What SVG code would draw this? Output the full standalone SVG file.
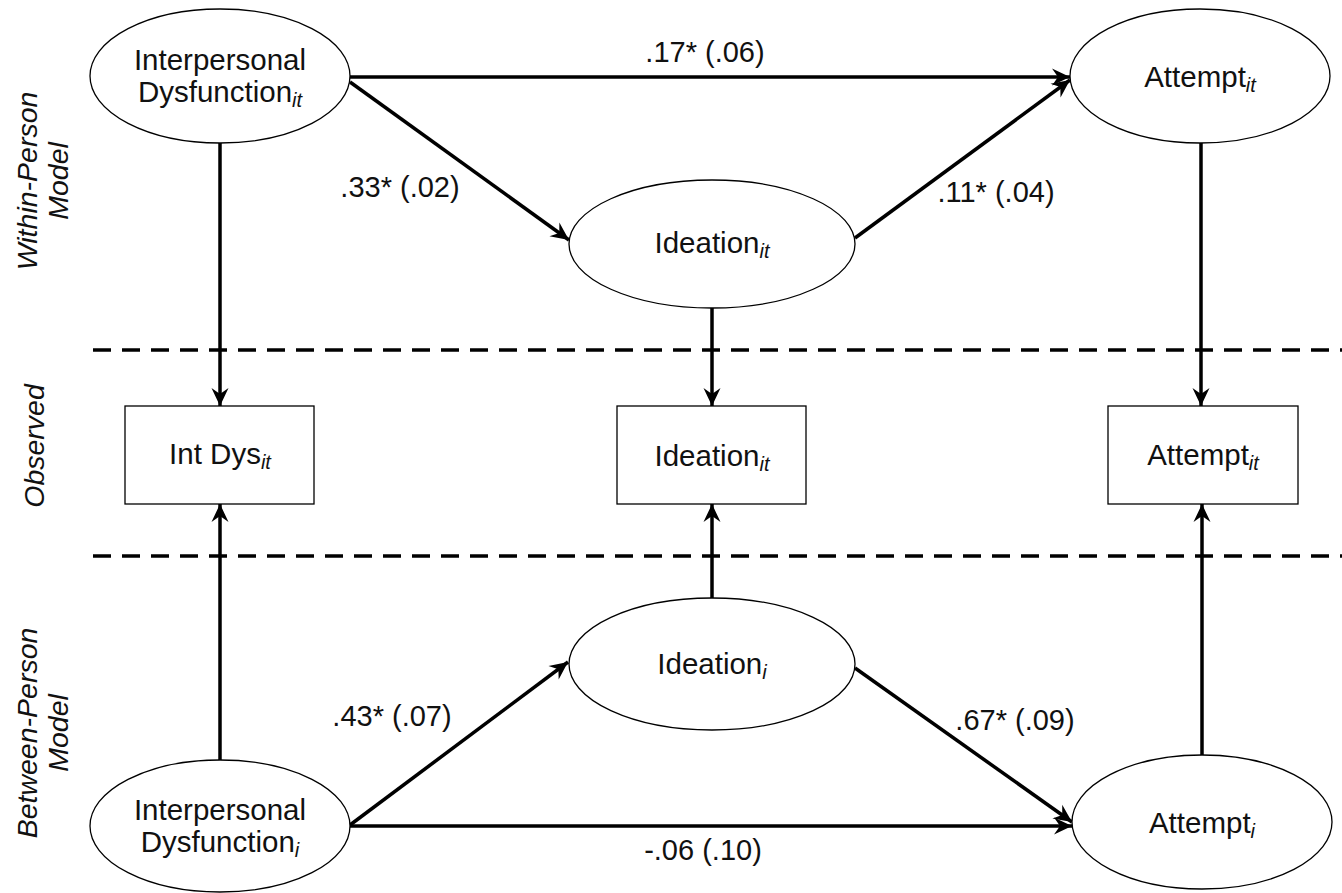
<svg xmlns="http://www.w3.org/2000/svg" width="1342" height="893" viewBox="0 0 1342 893">
<defs>
<style>
.node{fill:#fff;stroke:#000;stroke-width:1.3}
.t{font-family:"Liberation Sans",Arial,sans-serif;font-size:29.5px;fill:#111}
.sub{font-style:italic;font-size:20px}
.lab{font-family:"Liberation Sans",Arial,sans-serif;font-size:29px;fill:#111;text-anchor:middle}
.side{font-family:"Liberation Sans",Arial,sans-serif;font-size:28.5px;font-style:italic;fill:#111;text-anchor:middle}
.c{fill:none;stroke:#000;stroke-width:3.5;marker-end:url(#ah)}
.dash{fill:none;stroke:#000;stroke-width:3.5;stroke-dasharray:18 11}
</style>
<marker id="ah" markerUnits="userSpaceOnUse" markerWidth="22" markerHeight="20" viewBox="-20 -10 22 20" refX="0" refY="0" orient="auto">
<path d="M0,0 L-18,-8.5 L-12,0 L-18,8.5 Z" fill="#000"/>
</marker>
</defs>
<rect width="1342" height="893" fill="#fff"/>

<g id="dividers">
<line class="dash" x1="93" y1="350" x2="1342" y2="350"/>
<line class="dash" x1="93" y1="556" x2="1342" y2="556"/>
</g>

<g id="side-labels">
<text class="side" transform="translate(37,181) rotate(-90)">Within-Person</text>
<text class="side" transform="translate(68,181) rotate(-90)">Model</text>
<text class="side" transform="translate(44,446) rotate(-90)">Observed</text>
<text class="side" transform="translate(37,733) rotate(-90)">Between-Person</text>
<text class="side" transform="translate(68,733) rotate(-90)">Model</text>
</g>

<g id="connectors">
<path class="c" d="M350,77 L1070,77"/>
<path class="c" d="M350,82 L569,240"/>
<path class="c" d="M855,238 L1070,80"/>
<path class="c" d="M220,143 L220,406"/>
<path class="c" d="M712,308 L712,406"/>
<path class="c" d="M1201,143 L1201,406"/>
<path class="c" d="M220,760 L220,504"/>
<path class="c" d="M712,598 L712,504"/>
<path class="c" d="M1202,755 L1202,504"/>
<path class="c" d="M350,825 L568,662"/>
<path class="c" d="M855,668 L1072,822"/>
<path class="c" d="M350,826 L1072,826"/>
</g>

<g id="edge-labels">
<text class="lab" x="705" y="62">.17* (.06)</text>
<text class="lab" x="400" y="197">.33* (.02)</text>
<text class="lab" x="996" y="202">.11* (.04)</text>
<text class="lab" x="392" y="726">.43* (.07)</text>
<text class="lab" x="1015" y="730">.67* (.09)</text>
<text class="lab" x="703" y="860">-.06 (.10)</text>
</g>

<g id="intdys-it">
<ellipse class="node" cx="220" cy="76" rx="130" ry="67"/>
<text class="t" x="220" y="70" text-anchor="middle">Interpersonal</text>
<text class="t" x="220" y="102" text-anchor="middle">Dysfunction<tspan class="sub" dy="5">it</tspan></text>
</g>

<g id="ideation-it">
<ellipse class="node" cx="712" cy="244" rx="143" ry="64"/>
<text class="t" x="712" y="253" text-anchor="middle">Ideation<tspan class="sub" dy="5">it</tspan></text>
</g>

<g id="attempt-it">
<ellipse class="node" cx="1200" cy="76" rx="130" ry="67"/>
<text class="t" x="1200" y="87" text-anchor="middle">Attempt<tspan class="sub" dy="5">it</tspan></text>
</g>

<g id="intdys-obs">
<rect class="node" x="125" y="406" width="189" height="98"/>
<text class="t" x="220" y="464" text-anchor="middle">Int Dys<tspan class="sub" dy="5">it</tspan></text>
</g>

<g id="ideation-obs">
<rect class="node" x="617" y="406" width="189" height="98"/>
<text class="t" x="712" y="466" text-anchor="middle">Ideation<tspan class="sub" dy="5">it</tspan></text>
</g>

<g id="attempt-obs">
<rect class="node" x="1108" y="406" width="190" height="98"/>
<text class="t" x="1203" y="465" text-anchor="middle">Attempt<tspan class="sub" dy="5">it</tspan></text>
</g>

<g id="ideation-i">
<ellipse class="node" cx="712" cy="664" rx="143" ry="66"/>
<text class="t" x="712" y="674" text-anchor="middle">Ideation<tspan class="sub" dy="5">i</tspan></text>
</g>

<g id="intdys-i">
<ellipse class="node" cx="220" cy="826" rx="130" ry="66"/>
<text class="t" x="220" y="820" text-anchor="middle">Interpersonal</text>
<text class="t" x="220" y="852" text-anchor="middle">Dysfunction<tspan class="sub" dy="5">i</tspan></text>
</g>

<g id="attempt-i">
<ellipse class="node" cx="1202" cy="822" rx="130" ry="67"/>
<text class="t" x="1202" y="833" text-anchor="middle">Attempt<tspan class="sub" dy="5">i</tspan></text>
</g>
</svg>
